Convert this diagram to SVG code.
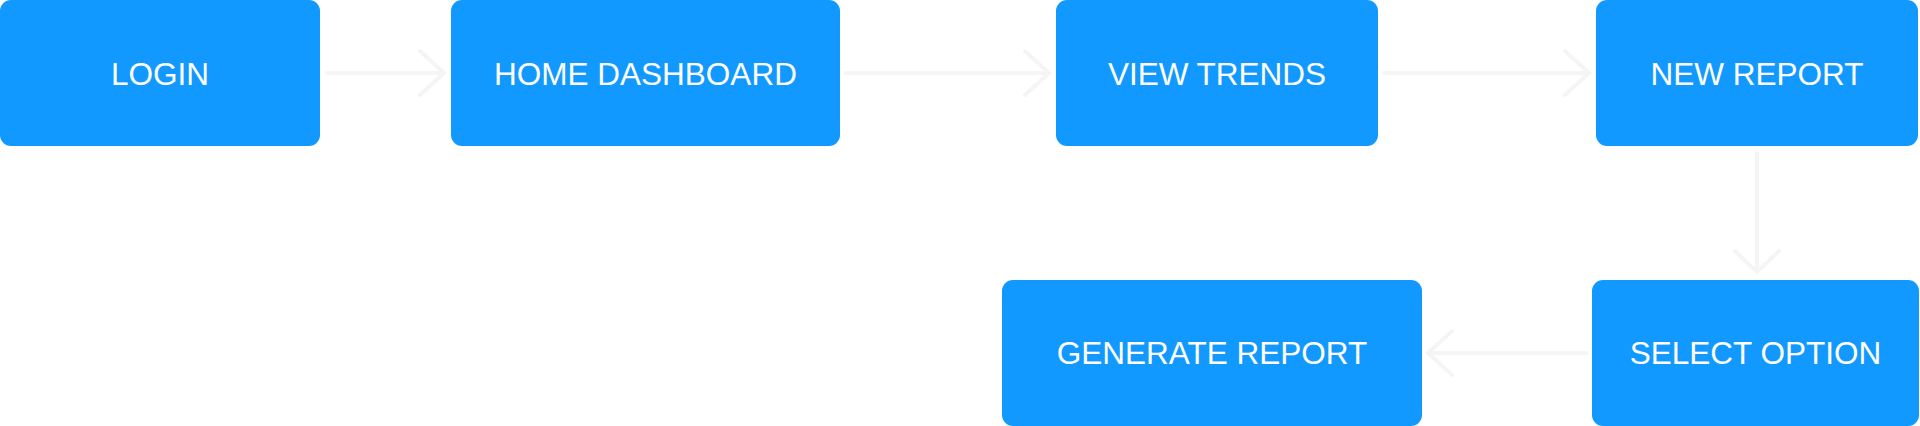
<svg xmlns="http://www.w3.org/2000/svg" width="1920" height="426" viewBox="0 0 1920 426">
<style>
.box{fill:#1199ff;}
.lbl{fill:#ffffff;font-family:"Liberation Sans",Arial,sans-serif;font-size:31.5px;text-anchor:middle;}
.edge{fill:none;stroke:#f5f5f5;stroke-width:4;stroke-linecap:round;stroke-linejoin:miter;}
</style>
<rect width="1920" height="426" fill="#ffffff"/>
<g id="login"><rect class="box" x="0" y="0" width="320" height="146" rx="11"/><text class="lbl" x="160" y="84.5">LOGIN</text></g>
<g id="home-dashboard"><rect class="box" x="451" y="0" width="389" height="146" rx="11"/><text class="lbl" x="645.5" y="84.5">HOME DASHBOARD</text></g>
<g id="view-trends"><rect class="box" x="1056" y="0" width="322" height="146" rx="11"/><text class="lbl" x="1217" y="84.5">VIEW TRENDS</text></g>
<g id="new-report"><rect class="box" x="1596" y="0" width="322" height="146" rx="11"/><text class="lbl" x="1757" y="84.5">NEW REPORT</text></g>
<g id="select-option"><rect class="box" x="1592" y="280" width="327" height="146" rx="11"/><text class="lbl" x="1755.5" y="363.5">SELECT OPTION</text></g>
<g id="generate-report"><rect class="box" x="1002" y="280" width="420" height="146" rx="11"/><text class="lbl" x="1212" y="363.5">GENERATE REPORT</text></g>
<g id="connectors">
<path class="edge" d="M327 73 H444 M420 51 L444 73 L420 95"/>
<path class="edge" d="M846 73 H1049 M1025 51 L1049 73 L1025 95"/>
<path class="edge" d="M1384 73 H1589 M1565 51 L1589 73 L1565 95"/>
<path class="edge" d="M1757 153 V272 M1735 251 L1757 272 L1779 251"/>
<path class="edge" d="M1586 353 H1428 M1452 331 L1428 353 L1452 375"/>
</g>
</svg>
